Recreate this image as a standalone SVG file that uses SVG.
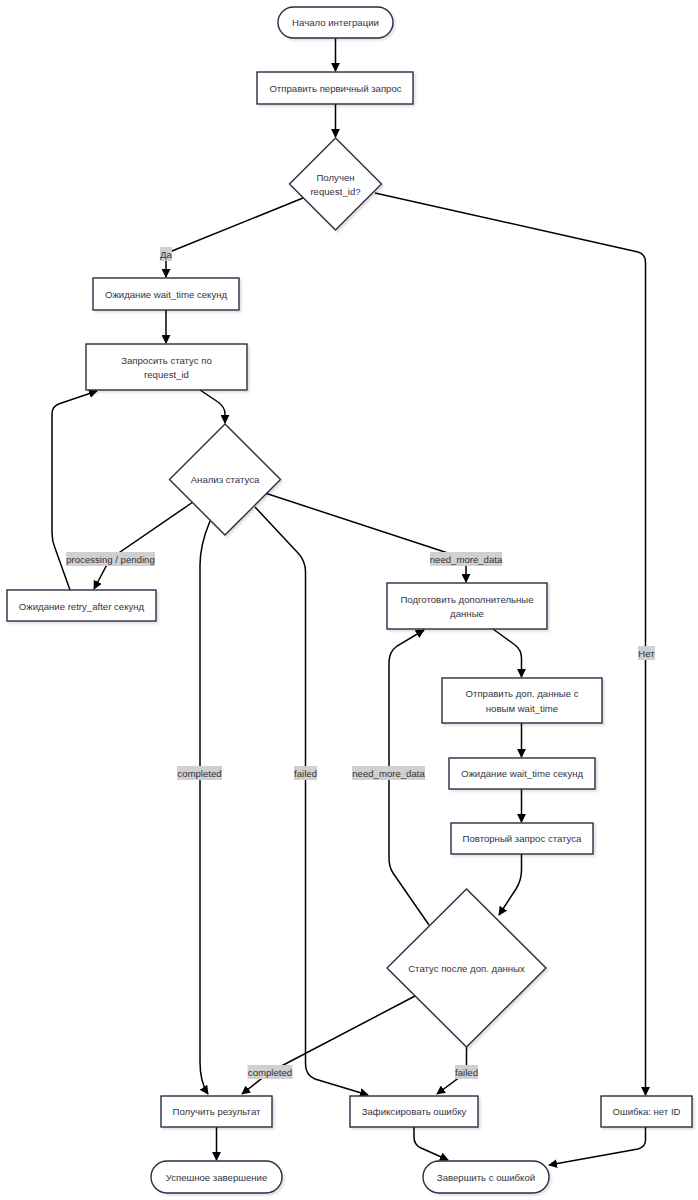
<svg xmlns="http://www.w3.org/2000/svg" width="698" height="1200" viewBox="0 0 698 1200">
<style>
.n rect,.n polygon{fill:#ffffff;stroke:#2d2a47;stroke-width:1.4;filter:url(#sh)}
.n text{font-family:"Liberation Sans",Arial,sans-serif;font-size:9.6px;fill:#333344;text-anchor:middle;dominant-baseline:central}
.e path{fill:none;stroke:#000;stroke-width:1.5;marker-end:url(#ah)}
.l rect{fill:#d0d0d0}
.l text{font-family:"Liberation Sans",Arial,sans-serif;font-size:9.6px;fill:#333;text-anchor:middle;dominant-baseline:central}
</style>
<defs>
<marker id="ah" viewBox="0 0 10 10" refX="9" refY="5" markerUnits="userSpaceOnUse" markerWidth="9" markerHeight="9" orient="auto">
<path d="M0,0 L10,5 L0,10 z" fill="#000"/>
</marker>
<filter id="sh" x="-10%" y="-10%" width="130%" height="130%">
<feDropShadow dx="2" dy="2" stdDeviation="1" flood-color="#000" flood-opacity="0.12"/>
</filter>
</defs>
<rect width="698" height="1200" fill="#ffffff"/>
<g id="connectors" class="e">
<path d="M335.5,38.5 L335.5,71"/>
<path d="M335.5,104 L335.5,137"/>
<path d="M303,198 L172,251 Q166,254 166,260 L166,277"/>
<path d="M375,193 L638,252 Q645.5,254 645.5,263 L645.5,1095"/>
<path d="M166,310 L166,343"/>
<path d="M200,390 L218,402 Q225,407 225,414 L225,423"/>
<path d="M193,502 L110,559 L94,589"/>
<path d="M70,590 L55,548 Q52,541 52,533 L52,414 Q52,406 60,403.5 L97,391"/>
<path d="M210,521 Q200,545 200,565 L200,1062 Q200,1082 208,1094"/>
<path d="M255,507 L298,553 Q305.5,561 305.5,572 L305.5,1064 Q305.5,1075 315,1079 L368,1095"/>
<path d="M265,493 L460,557 Q466,559 466,565 L466,582"/>
<path d="M493,629 L515,645 Q521.5,650 521.5,658 L521.5,677"/>
<path d="M521.5,723 L521.5,757"/>
<path d="M521.5,789 L521.5,822"/>
<path d="M521.5,854 L521.5,870 Q521.5,880 516,889 L499,915"/>
<path d="M429,925 L393,873 Q389,867 389,858 L389,662 Q389,652 397,646 L424,630"/>
<path d="M415,996 L270,1072 L242,1094"/>
<path d="M466.5,1047 L466.5,1072 L437,1094"/>
<path d="M216.5,1127 L216.5,1160"/>
<path d="M414,1127 L414,1137 Q414,1145 421,1148 L448,1160"/>
<path d="M645.5,1127 L645.5,1140 Q645.5,1147 638,1149 L549,1165"/>
</g>
<g id="edge-labels" class="l">
<g><rect x="160" y="247" width="12" height="14"/><text x="166" y="254">Да</text></g>
<g><rect x="638" y="646" width="17" height="14"/><text x="646.5" y="653">Нет</text></g>
<g><rect x="66" y="552" width="89" height="14"/><text x="110.5" y="559">processing / pending</text></g>
<g><rect x="430" y="552" width="72" height="14"/><text x="466" y="559">need_more_data</text></g>
<g><rect x="177" y="766" width="45" height="14"/><text x="199.5" y="773">completed</text></g>
<g><rect x="294" y="766" width="23" height="14"/><text x="305.5" y="773">failed</text></g>
<g><rect x="352" y="766" width="73" height="14"/><text x="388.5" y="773">need_more_data</text></g>
<g><rect x="247.5" y="1065" width="45" height="14"/><text x="270" y="1072">completed</text></g>
<g><rect x="455" y="1065" width="23" height="14"/><text x="466.5" y="1072">failed</text></g>
</g>
<g id="start" class="n"><rect x="278" y="7" width="115" height="31" rx="15.5"/><text x="335.5" y="22.5">Начало интеграции</text></g>
<g id="send" class="n"><rect x="257" y="72" width="156" height="32"/><text x="335.5" y="88">Отправить первичный запрос</text></g>
<g id="got_id" class="n"><polygon points="335.5,138 381.5,184 335.5,230 289.5,184"/><text x="335.5" y="177">Получен</text><text x="335.5" y="191">request_id?</text></g>
<g id="wait1" class="n"><rect x="93" y="278" width="146" height="32"/><text x="166" y="294">Ожидание wait_time секунд</text></g>
<g id="req_status" class="n"><rect x="86" y="344" width="161" height="46"/><text x="166.5" y="360">Запросить статус по</text><text x="166.5" y="374">request_id</text></g>
<g id="analysis" class="n"><polygon points="225,424 280.5,479.5 225,535 169.5,479.5"/><text x="225" y="479.5">Анализ статуса</text></g>
<g id="wait_retry" class="n"><rect x="7" y="590" width="149" height="31"/><text x="81.5" y="606">Ожидание retry_after секунд</text></g>
<g id="prepare" class="n"><rect x="387" y="583" width="160" height="46"/><text x="467" y="599">Подготовить дополнительные</text><text x="467" y="613">данные</text></g>
<g id="send_more" class="n"><rect x="442" y="678" width="160" height="45"/><text x="522" y="693">Отправить доп. данные с</text><text x="522" y="708">новым wait_time</text></g>
<g id="wait2" class="n"><rect x="449" y="758" width="146" height="31"/><text x="522" y="773.5">Ожидание wait_time секунд</text></g>
<g id="repeat" class="n"><rect x="451" y="823" width="142" height="31"/><text x="522" y="838.5">Повторный запрос статуса</text></g>
<g id="status_after" class="n"><polygon points="466.5,889 546,968 466.5,1047 387,968"/><text x="466.5" y="968">Статус после доп. данных</text></g>
<g id="get_result" class="n"><rect x="161" y="1096" width="111" height="31"/><text x="216.5" y="1111.5">Получить результат</text></g>
<g id="log_error" class="n"><rect x="350" y="1096" width="128" height="31"/><text x="414" y="1111.5">Зафиксировать ошибку</text></g>
<g id="no_id" class="n"><rect x="601" y="1096" width="91" height="31"/><text x="646.5" y="1111.5">Ошибка: нет ID</text></g>
<g id="success" class="n"><rect x="151" y="1161" width="131" height="32" rx="16"/><text x="216.5" y="1177">Успешное завершение</text></g>
<g id="fail_end" class="n"><rect x="423" y="1161" width="126" height="32" rx="16"/><text x="486" y="1177">Завершить с ошибкой</text></g>
</svg>
